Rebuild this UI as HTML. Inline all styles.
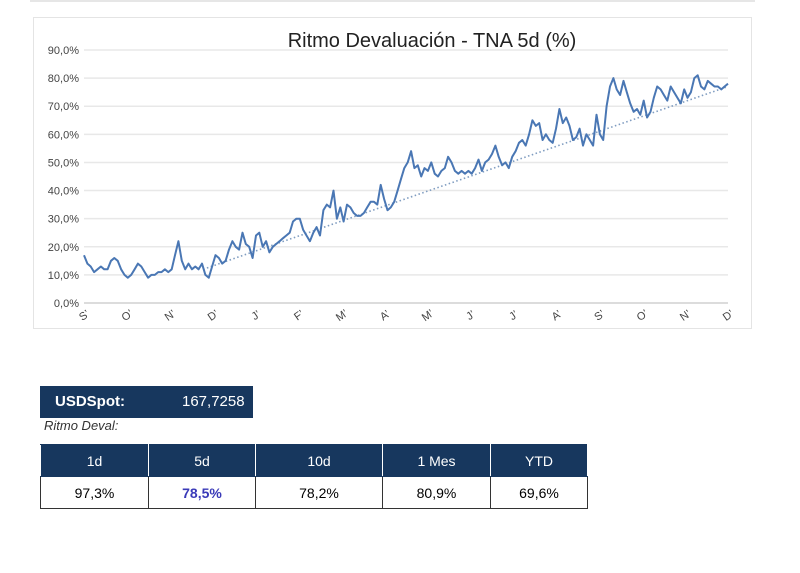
<!DOCTYPE html>
<html><head><meta charset="utf-8">
<style>
body{margin:0;width:800px;height:573px;background:#fff;font-family:"Liberation Sans",sans-serif;overflow:hidden;position:relative}
.frame{position:absolute;left:33px;top:17px;width:719px;height:312px;border:1px solid #e4e4e4;box-sizing:border-box}
.topline{position:absolute;left:30px;top:0;width:725px;height:2px;background:#e6e6e6}
.box{position:absolute;background:#17375e;color:#fff;box-sizing:border-box}
table{position:absolute;left:40px;top:444px;border-collapse:collapse;font-size:14px}
td{border:1px solid #333;text-align:center;height:31px;padding:0}
.h td{background:#17375e;color:#fff;border-color:#17375e #fff #17375e #fff}
</style></head><body>
<div class="topline"></div>
<div class="frame"></div>
<svg id="chart" width="800" height="340" style="position:absolute;left:0;top:0"></svg>
<div class="box" style="left:40px;top:386px;width:213px;height:32px">
<span style="position:absolute;left:15px;top:7px;font-size:15px;font-weight:bold">USDSpot:</span>
<span style="position:absolute;left:142px;top:7px;font-size:15px">167,7258</span>
</div>
<div style="position:absolute;left:44px;top:418px;font-size:13px;font-style:italic;color:#333">Ritmo Deval:</div>
<table>
<tr class="h"><td style="width:107px">1d</td><td style="width:106px">5d</td><td style="width:126px">10d</td><td style="width:107px">1 Mes</td><td style="width:96px">YTD</td></tr>
<tr><td>97,3%</td><td style="color:#3a3ab8;font-weight:bold">78,5%</td><td>78,2%</td><td>80,9%</td><td>69,6%</td></tr>
</table>
<script>
const tickLabels=["0,0%","10,0%","20,0%","30,0%","40,0%","50,0%","60,0%","70,0%","80,0%","90,0%"];
const tickValues=[0,10,20,30,40,50,60,70,80,90];
const categories=["S","O","N","D","J","F","M","A","M","J","J","A","S","O","N","D"];
const series=[17,14,13,11,12,13,12,12,15,16,15,12,10,9,10,12,14,13,11,9,10,10,11,11,12,11,12,17,22,15,12,14,12,13,12,14,10,9,13,17,16,14,15,19,22,20,19,25,21,20,16,24,25,20,22,18,20,21,22,23,24,25,29,30,30,26,24,22,25,27,24,33,35,34,40,30,34,29,35,34,32,31,31,32,34,36,36,35,42,37,33,34,36,40,44,48,50,54,48,49,45,48,47,50,46,45,47,48,52,50,47,46,47,46,47,46,48,51,47,50,51,53,56,52,49,50,48,52,54,57,58,56,60,65,63,64,58,60,58,57,62,69,64,66,63,58,59,62,56,60,58,56,67,60,58,70,77,80,76,74,79,75,71,68,69,67,72,66,68,73,77,76,74,72,77,75,73,71,76,73,75,80,81,77,76,79,78,77,77,76,77,78];
const trendStart=[0.185,12];
const trendEnd=[1,77];
const svg=document.getElementById('chart');
const NS='http://www.w3.org/2000/svg';
const x0=84,x1=728,y0=303,yTop=50;
const ys=v=>y0-(v/90)*(y0-yTop);
const xs=f=>x0+f*(x1-x0);
function mk(t,a){const e=document.createElementNS(NS,t);for(const k in a)e.setAttribute(k,a[k]);svg.appendChild(e);return e;}
tickValues.forEach((v,i)=>{
 const g=mk('line',{x1:x0,x2:x1,y1:ys(v),y2:ys(v),stroke:i==0?'#d0d0d0':'#e8e8e8','stroke-width':1.5});
 
 
 const t=mk('text',{x:79,y:ys(v)+4,'text-anchor':'end','font-size':11,fill:'#444'});
 
 
 t.textContent=tickLabels[i];
});
const title=mk('text',{x:432,y:47,'text-anchor':'middle','font-size':20,fill:'#222'});


title.textContent='Ritmo Devaluación - TNA 5d (%)';
categories.forEach((c,i)=>{
 const x=xs(i/(categories.length-1));
 const t=mk('text',{x:x,y:319,'text-anchor':'middle','font-size':11,fill:'#444',transform:`rotate(-35 ${x} 315)`});
 
 
 t.textContent=c+'\u2019';
});
const tr=mk('line',{x1:xs(trendStart[0]),y1:ys(trendStart[1]),x2:xs(trendEnd[0]),y2:ys(trendEnd[1]),stroke:'#7f9cc0','stroke-width':1.6,'stroke-dasharray':'1.5 2.5'});


const pts=series.map((v,i)=>xs(i/(series.length-1)).toFixed(1)+','+ys(v).toFixed(1)).join(' ');
const pl=mk('polyline',{points:pts,fill:'none',stroke:'#4a77b4','stroke-width':2,'stroke-linejoin':'round'});


</script>
</body></html>
